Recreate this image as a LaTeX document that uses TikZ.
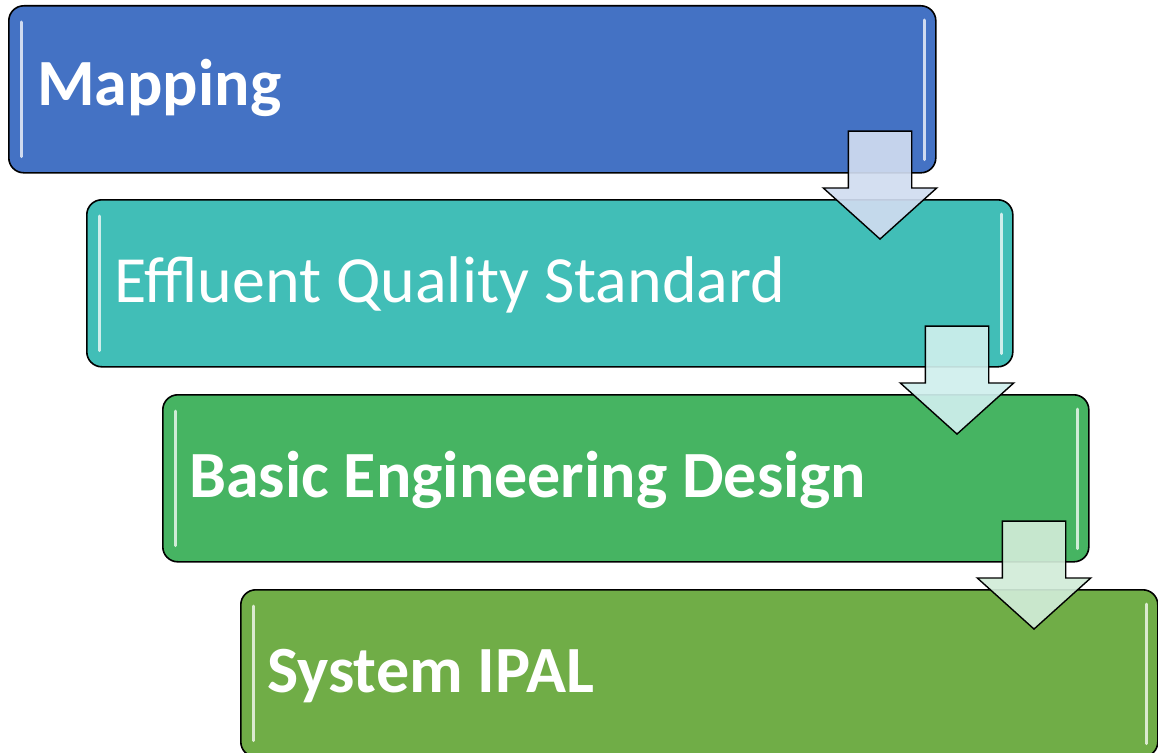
\documentclass[tikz,border=0pt]{standalone}
\usepackage{fontspec}
\setmainfont{Carlito}
\usetikzlibrary{positioning,shapes.arrows}

\definecolor{mapblue}{RGB}{68,114,196}
\definecolor{effteal}{RGB}{65,190,183}
\definecolor{basgreen}{RGB}{70,180,98}
\definecolor{ipalgreen}{RGB}{112,173,71}

\tikzset{
  stepbox/.style={draw=black, line width=1.6pt, rounded corners=15pt,
    fill=#1, minimum height=167pt, anchor=north west},
  steplabel/.style={text=white, inner sep=0pt, anchor=base west,
    font=\fontsize{66}{70}\selectfont},
  flowarrow/.style={single arrow, draw=black, line width=1.4pt, rotate=-90,
    fill=white!75!#1, fill opacity=0.92, inner sep=31pt, minimum height=108pt,
    single arrow head extend=25pt, single arrow tip angle=96, anchor=tip},
  shine/.style={draw=white, line width=3pt, line cap=round, opacity=0.75}
}

\begin{document}
\begin{tikzpicture}[x=1pt, y=-1pt]
\useasboundingbox (0,0) rectangle (1158,752);
\clip (0,0) rectangle (1158,752);

% the four steps
\node[stepbox=mapblue, minimum width=927pt] (map) at (8,5) {};
\node[stepbox=effteal, minimum width=926pt] (eqs) at (86,199) {};
\node[stepbox=basgreen, minimum width=926pt] (bed) at (162,394) {};
\node[stepbox=ipalgreen, minimum width=917pt] (ipal) at (240,589) {};

\node[steplabel] (map-t) at ([xshift=29pt,yshift=-16pt]map.west) {\bfseries Mapping};
\node[steplabel] (eqs-t) at ([xshift=28pt,yshift=-19pt]eqs.west) {Effluent Quality Standard};
\node[steplabel] (bed-t) at ([xshift=27pt,yshift=-19.5pt]bed.west) {\bfseries Basic Engineering Design};
\node[steplabel] (ipal-t) at ([xshift=27pt,yshift=-19.5pt]ipal.west) {\bfseries System IPAL};

% glossy edges
\foreach \b in {map,eqs,bed,ipal} {
  \draw[shine] ([xshift=13pt,yshift=-17pt]\b.north west) -- ([xshift=13pt,yshift=17pt]\b.south west);
  \draw[shine] ([xshift=-12pt,yshift=-15pt]\b.north east) -- ([xshift=-12pt,yshift=14pt]\b.south east);
}

% arrows between steps
\node[flowarrow=mapblue] (a1) at (880,240) {};
\node[flowarrow=effteal] (a2) at (957,435) {};
\node[flowarrow=basgreen] (a3) at (1034,630) {};
\end{tikzpicture}
\end{document}
